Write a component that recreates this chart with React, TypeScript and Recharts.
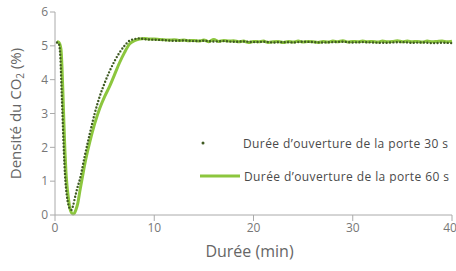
import { Line, LineChart, XAxis, YAxis } from "recharts";

// Durée (min) / densité CO2 (%) – porte ouverte 30 s
const time30 = [
  0.2, 0.4, 0.55, 0.65, 0.75, 0.85, 0.95, 1.05, 1.2, 1.35, 1.5, 1.65, 1.8, 2.0,
  2.25, 2.5, 3.0, 3.5, 4.0, 4.5, 5.0, 5.5, 6.0, 6.5, 7.0, 7.5, 8.0, 8.5, 9.0,
  10, 11, 12, 13, 14, 15, 16, 17, 18, 19, 20, 21, 22, 23, 24, 25, 26, 27, 28,
  29, 30, 31, 32, 33, 34, 35, 36, 37, 38, 39, 40,
];
const co2_30 = [
  5.1, 5.05, 4.6, 3.8, 3.0, 2.2, 1.5, 1.0, 0.55, 0.3, 0.18, 0.15, 0.25, 0.5,
  0.8, 1.05, 1.75, 2.4, 3.0, 3.5, 3.9, 4.25, 4.55, 4.8, 5.0, 5.15, 5.2, 5.22,
  5.2, 5.18, 5.17, 5.15, 5.16, 5.14, 5.15, 5.13, 5.14, 5.12, 5.13, 5.11, 5.12,
  5.1, 5.11, 5.1, 5.12, 5.11, 5.1, 5.11, 5.12, 5.1, 5.11, 5.1, 5.09, 5.1, 5.11,
  5.09, 5.1, 5.08, 5.09, 5.08,
];

// porte ouverte 60 s
const time60 = [
  0.2, 0.4, 0.6, 0.7, 0.8, 0.9, 1.0, 1.1, 1.2, 1.35, 1.5, 1.65, 1.8, 1.95, 2.1,
  2.3, 2.5, 2.75, 3.0, 3.5, 4.0, 4.5, 5.0, 5.5, 6.0, 6.5, 7.0, 7.5, 8.0, 8.5,
  9.0, 9.5, 10, 10.5, 11, 11.5, 12, 12.5, 13, 13.5, 14, 14.5, 15, 15.5, 16,
  16.5, 17, 17.5, 18, 18.5, 19, 19.5, 20, 20.5, 21, 21.5, 22, 22.5, 23, 23.5,
  24, 24.5, 25, 25.5, 26, 26.5, 27, 27.5, 28, 28.5, 29, 29.5, 30, 30.5, 31,
  31.5, 32, 32.5, 33, 33.5, 34, 34.5, 35, 35.5, 36, 36.5, 37, 37.5, 38, 38.5,
  39, 39.5, 40,
];
const co2_60 = [
  5.12, 5.1, 4.9, 4.4, 3.6, 2.7, 1.9, 1.3, 0.9, 0.5, 0.2, 0.07, 0.03, 0.05,
  0.15, 0.35, 0.7, 1.1, 1.5, 2.15, 2.7, 3.15, 3.5, 3.8, 4.15, 4.5, 4.8, 5.05,
  5.15, 5.2, 5.22, 5.2, 5.2, 5.19, 5.18, 5.17, 5.18, 5.16, 5.17, 5.15, 5.16,
  5.14, 5.17, 5.12, 5.19, 5.13, 5.16, 5.14, 5.15, 5.12, 5.14, 5.1, 5.13, 5.12,
  5.14, 5.1, 5.12, 5.13, 5.1, 5.13, 5.11, 5.14, 5.11, 5.13, 5.12, 5.1, 5.13,
  5.11, 5.14, 5.12, 5.15, 5.11, 5.13, 5.12, 5.14, 5.12, 5.13, 5.11, 5.14, 5.12,
  5.13, 5.15, 5.12, 5.14, 5.12, 5.13, 5.11, 5.14, 5.12, 5.13, 5.14, 5.12, 5.14,
];

const xTicks = [0, 10, 20, 30, 40];
const yTicks = [0, 1, 2, 3, 4, 5, 6];

const data30 = time30.map((t, i) => ({ t, v: co2_30[i] }));
const data60 = time60.map((t, i) => ({ t, v: co2_60[i] }));

const FONT = "'Open Sans', Roboto, sans-serif";
const DOTS = "#3f5a22";
const GREEN = "#8cc63e";

function LegendBox() {
  const text = { fontSize: 12, fill: "#4a4a4a", fontFamily: FONT, letterSpacing: 0.4 };
  return (
    <svg
      width={258}
      height={50}
      style={{ position: "absolute", left: 198, top: 133 }}
    >
      <circle cx={5} cy={10} r={1.5} fill={DOTS} />
      <text x={45} y={10} dominantBaseline="central" {...text}>
        Durée d’ouverture de la porte 30 s
      </text>
      <line x1={2} x2={42} y1={43} y2={43} stroke={GREEN} strokeWidth={3} />
      <text x={46} y={43} dominantBaseline="central" {...text}>
        Durée d’ouverture de la porte 60 s
      </text>
    </svg>
  );
}

export default function App() {
  return (
    <div style={{ position: "absolute", left: 0, top: 0, width: 456, height: 271 }}>
      <LineChart
        width={456}
        height={271}
        margin={{ top: 12, right: 4, bottom: 0, left: 0 }}
      >
        <XAxis
          type="number"
          dataKey="t"
          domain={[0, 40]}
          ticks={xTicks}
          allowDuplicatedCategory={false}
          height={56}
          stroke="#aaa"
          tickSize={6}
          tick={{ fill: "#777", fontSize: 12, fontFamily: FONT }}
          label={({ viewBox }: any) => (
            <text
              x={viewBox.x + viewBox.width / 2 - 4}
              y={viewBox.y + 42}
              textAnchor="middle"
              fontSize={16}
              fill="#666"
              fontFamily={FONT}
            >
              Durée (min)
            </text>
          )}
        />
        <YAxis
          type="number"
          domain={[0, 6]}
          ticks={yTicks}
          width={55}
          stroke="#aaa"
          tickSize={5}
          tick={{ fill: "#777", fontSize: 12, fontFamily: FONT }}
          label={({ viewBox }: any) => {
            const cx = 21;
            const cy = viewBox.y + viewBox.height / 2;
            return (
              <text
                x={cx}
                y={cy}
                transform={`rotate(-90 ${cx} ${cy})`}
                textAnchor="middle"
                fontSize={15}
                fill="#666"
                fontFamily={FONT}
              >
                Densité du CO
                <tspan fontSize={10} dy={3}>2</tspan>
                <tspan dy={-3}> (%)</tspan>
              </text>
            );
          }}
        />
        <Line
          data={data60}
          dataKey="v"
          name="Durée d’ouverture de la porte 60 s"
          type="monotone"
          stroke={GREEN}
          strokeWidth={3}
          dot={false}
          isAnimationActive={false}
        />
        <Line
          data={data30}
          dataKey="v"
          name="Durée d’ouverture de la porte 30 s"
          type="monotone"
          stroke={DOTS}
          strokeWidth={2.4}
          strokeDasharray="0 3.4"
          strokeLinecap="round"
          dot={false}
          isAnimationActive={false}
        />
      </LineChart>
      <LegendBox />
    </div>
  );
}
